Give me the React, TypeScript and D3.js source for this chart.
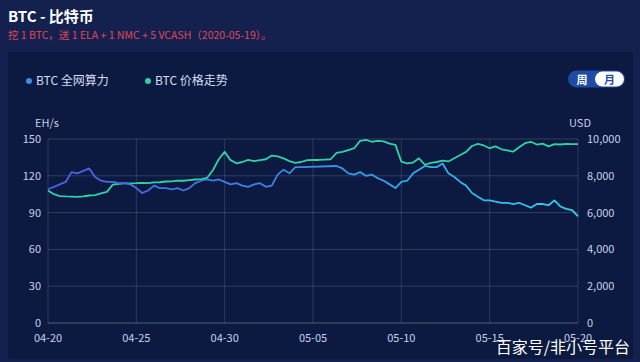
import React, { useEffect, useRef } from 'react';
import * as d3 from 'd3';

// 8-hour samples from 2020-04-20 00:00 to 2020-05-20 00:00
const START = '2020-04-20';
const STEP_HOURS = 8;
const tickDays = [0, 5, 10, 15, 20, 25, 30];

// BTC network hashrate (EH/s); null = missing sample (line bridges the gap)
const hashrate: (number | null)[] = [
  109, 111, 113, 115, 123, 122, 124, 126, 119, 116,
  115, 115, 114, 114, 113, 110, 106, 108, 112, 110,
  110, 109, 110, 108, 110, 114, 116, 117, 116, 117,
  115, 113, 114, 112, 111, 113, 114, 111, 112, 121,
  125, 122, 127, 127, null, null, null, null, null, 128,
  126, 122, 121, 123, 120, 121, 118, 116, 113, 110,
  115, 116, 122, 125, 128, 127, 127, 130, 122, 119,
  115, 112, 106, 103, 100, 100, 99, 98, 98, 97,
  98, 96, 94, 97, 97, 96, 100, 95, 93, 92,
  87,
];

// BTC price (USD)
const price: number[] = [
  7200, 7000, 6900, 6880, 6870, 6860, 6880, 6930, 6950, 7050,
  7130, 7520, 7560, 7590, 7590, 7600, 7620, 7600, 7640, 7650,
  7690, 7700, 7740, 7730, 7770, 7800, 7820, 7880, 8300, 8900,
  9300, 8850, 8680, 8750, 8860, 8800, 8850, 8900, 9100, 9050,
  8950, 8800, 8700, 8750, 8850, 8860, 8860, 8880, 8900, 9250,
  9300, 9400, 9500, 9900, 9950, 9850, 9900, 9870, 9750, 9680,
  8770, 8680, 8720, 8950, 8600, 8700, 8750, 8820, 8780, 8950,
  9130, 9300, 9620, 9730, 9650, 9500, 9600, 9440, 9380, 9310,
  9550, 9770, 9850, 9700, 9750, 9600, 9720, 9700, 9730, 9720,
  9720,
];

const leftTicks = [0, 30, 60, 90, 120, 150];
const rightTicks = [0, 2000, 4000, 6000, 8000, 10000];
const legendItems = [
  { name: 'BTC 全网算力', color: '#3a8ee6' },
  { name: 'BTC 价格走势', color: '#2fd3a3' },
];

const W = 640;
const H = 362;
const FONT = '"Noto Sans CJK SC", "Noto Sans", sans-serif';

const App: React.FC = () => {
  const svgRef = useRef<SVGSVGElement>(null);

  useEffect(() => {
    if (!svgRef.current) return;
    const svg = d3.select(svgRef.current);
    svg.selectAll('*').remove();

    const margin = { top: 139, right: 62, bottom: 39, left: 48 };
    const innerW = W - margin.left - margin.right;
    const innerH = H - margin.top - margin.bottom;

    const start = d3.timeParse('%Y-%m-%d')(START)!;
    const times = price.map((_, i) => d3.timeHour.offset(start, i * STEP_HOURS));

    const x = d3.scaleTime()
      .domain([start, d3.timeDay.offset(start, 30)])
      .range([0, innerW]);
    const yL = d3.scaleLinear().domain([0, 150]).range([innerH, 0]);
    const yR = d3.scaleLinear().domain([0, 10000]).range([innerH, 0]);

    // backgrounds
    svg.append('rect').attr('width', W).attr('height', H).attr('fill', '#14214f');
    svg.append('rect')
      .attr('x', 8).attr('y', 52).attr('width', 625).attr('height', 307)
      .attr('rx', 3).attr('fill', '#0c1940');

    // title
    svg.append('text')
      .attr('x', 8).attr('y', 22)
      .attr('fill', '#ffffff').attr('font-size', 15).attr('font-weight', 700)
      .style('font-family', FONT)
      .text('BTC - 比特币');
    svg.append('text')
      .attr('x', 8).attr('y', 38.5)
      .attr('fill', '#e0465a').attr('font-size', 10.5)
      .style('font-family', FONT)
      .text('挖 1 BTC，送 1 ELA + 1 NMC + 5 VCASH（2020-05-19）。');

    // legend
    let lx = 29;
    legendItems.forEach(item => {
      svg.append('circle').attr('cx', lx).attr('cy', 81).attr('r', 3).attr('fill', item.color);
      svg.append('text')
        .attr('x', lx + 7).attr('y', 85)
        .attr('fill', '#d6ddf2').attr('font-size', 12)
        .style('font-family', FONT)
        .text(item.name);
      lx += 119;
    });

    // week / month toggle
    svg.append('rect')
      .attr('x', 568).attr('y', 70.5).attr('width', 57).attr('height', 17)
      .attr('rx', 8.5).attr('fill', '#1f4aa6');
    svg.append('rect')
      .attr('x', 595).attr('y', 71.5).attr('width', 29).attr('height', 15)
      .attr('rx', 7.5).attr('fill', '#ffffff');
    svg.append('text')
      .attr('x', 582).attr('y', 83.5).attr('text-anchor', 'middle')
      .attr('fill', '#ffffff').attr('font-size', 11).attr('font-weight', 700)
      .style('font-family', FONT).text('周');
    svg.append('text')
      .attr('x', 609.5).attr('y', 83.5).attr('text-anchor', 'middle')
      .attr('fill', '#1f4aa6').attr('font-size', 11).attr('font-weight', 700)
      .style('font-family', FONT).text('月');

    const g = svg.append('g').attr('transform', `translate(${margin.left},${margin.top})`);

    // horizontal grid
    g.append('g')
      .selectAll('line')
      .data(leftTicks)
      .enter()
      .append('line')
      .attr('x1', 0).attr('x2', innerW)
      .attr('y1', d => yL(d)).attr('y2', d => yL(d))
      .attr('stroke', d => (d === 0 ? 'rgba(255,255,255,0.3)' : 'rgba(255,255,255,0.16)'))
      .attr('stroke-width', 1);

    // vertical grid
    const xTicks = tickDays.map(d => d3.timeDay.offset(start, d));
    g.append('g')
      .selectAll('line')
      .data(xTicks)
      .enter()
      .append('line')
      .attr('x1', d => x(d)).attr('x2', d => x(d))
      .attr('y1', 0).attr('y2', innerH)
      .attr('stroke', 'rgba(255,255,255,0.14)');

    // axis labels
    const tickStyle = (sel: d3.Selection<SVGTextElement, any, any, any>) =>
      sel.attr('fill', '#c9d1ea').attr('font-size', 11).style('font-family', FONT);

    g.append('g').selectAll('text')
      .data(leftTicks).enter().append('text')
      .attr('x', -7).attr('y', d => yL(d) + 4)
      .attr('text-anchor', 'end')
      .call(tickStyle)
      .text(d => String(d));

    g.append('g').selectAll('text')
      .data(rightTicks).enter().append('text')
      .attr('x', innerW + 9).attr('y', d => yR(d) + 4)
      .attr('text-anchor', 'start')
      .call(tickStyle)
      .text(d => d3.format(',')(d));

    g.append('g').selectAll('text')
      .data(xTicks).enter().append('text')
      .attr('x', d => x(d)).attr('y', innerH + 19)
      .attr('text-anchor', 'middle')
      .call(tickStyle)
      .text(d => d3.timeFormat('%m-%d')(d));

    g.append('text').attr('x', -1).attr('y', -12).attr('text-anchor', 'middle')
      .call(tickStyle).text('EH/s');
    g.append('text').attr('x', innerW + 2).attr('y', -12).attr('text-anchor', 'middle')
      .call(tickStyle).text('USD');

    // hashrate gradient
    const defs = svg.append('defs');
    const grad = defs.append('linearGradient')
      .attr('id', 'hashGrad')
      .attr('gradientUnits', 'userSpaceOnUse')
      .attr('x1', 0).attr('x2', innerW).attr('y1', 0).attr('y2', 0);
    grad.append('stop').attr('offset', '0%').attr('stop-color', '#4a5fe2');
    grad.append('stop').attr('offset', '45%').attr('stop-color', '#3a86e6');
    grad.append('stop').attr('offset', '100%').attr('stop-color', '#30d2ea');

    const priceData = price.map((v, i) => ({ t: times[i], v }));
    const hashData = hashrate
      .map((v, i) => ({ t: times[i], v }))
      .filter(d => d.v !== null) as { t: Date; v: number }[];

    g.append('path')
      .datum(priceData)
      .attr('fill', 'none')
      .attr('stroke', '#2fd3a3')
      .attr('stroke-width', 1.8)
      .attr('stroke-linejoin', 'round')
      .attr('d', d3.line<{ t: Date; v: number }>().x(d => x(d.t)).y(d => yR(d.v)));

    g.append('path')
      .datum(hashData)
      .attr('fill', 'none')
      .attr('stroke', 'url(#hashGrad)')
      .attr('stroke-width', 1.8)
      .attr('stroke-linejoin', 'round')
      .attr('d', d3.line<{ t: Date; v: number }>().x(d => x(d.t)).y(d => yL(d.v)));

    // watermark
    svg.append('text')
      .attr('x', 630).attr('y', 353)
      .attr('text-anchor', 'end')
      .attr('fill', '#ffffff').attr('font-size', 16)
      .style('font-family', FONT)
      .text('百家号/非小号平台');
  }, []);

  return (
    <svg
      ref={svgRef}
      width={W}
      height={H}
      style={{ position: 'absolute', left: 0, top: 0, display: 'block' }}
    />
  );
};

export default App;
